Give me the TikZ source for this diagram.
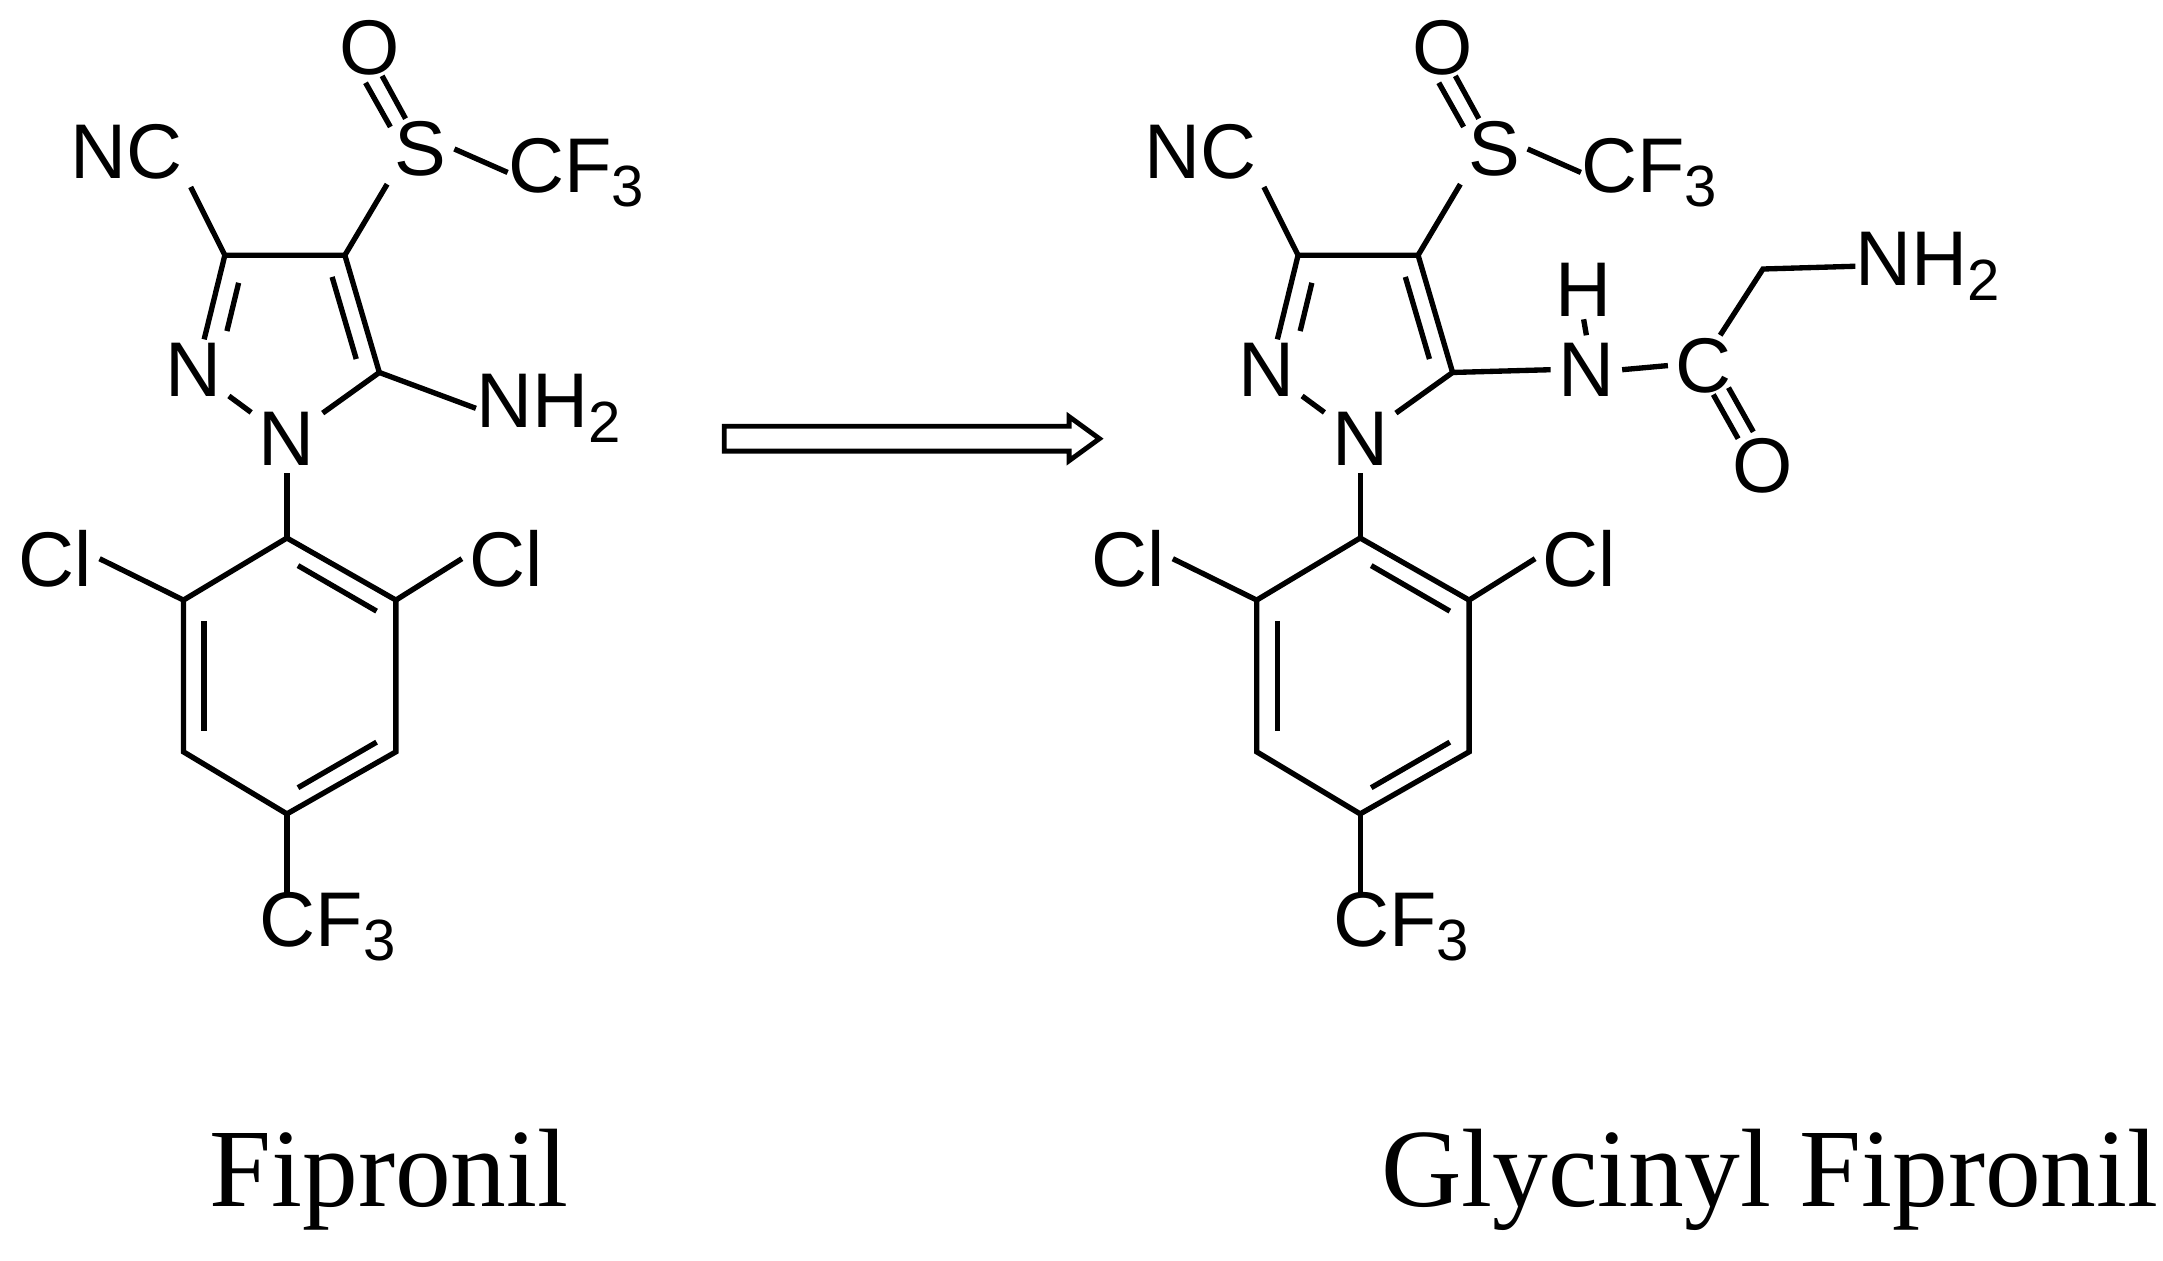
\documentclass[tikz,border=0pt]{standalone}
\usepackage{fontspec}
\setmainfont{Liberation Serif}
\newfontfamily\atomfont{Liberation Sans}
\usetikzlibrary{calc}
\newcommand\subt[1]{\raisebox{-0.35ex}{\fontsize{24}{24}\selectfont #1}}
\tikzset{
 atm/.style={inner sep=3pt,font=\atomfont\fontsize{32}{32}\selectfont},
 bd/.style={line width=2.2pt},
 ttl/.style={font=\fontsize{46}{46}\selectfont,inner sep=0pt}
}
\newcommand\core[2]{%
\begin{scope}[shift={(#2,0)}]
 \coordinate (#1c3) at (163,185);
 \coordinate (#1c4) at (250,185);
 \coordinate (#1c5) at (275,270);
 \node[atm] (#1n1) at (208,318) {N};
 \node[atm] (#1n2) at (140,268) {N};
 \coordinate (#1n2t) at (148,246);
 \node[atm] (#1nc) at (92,110) {NC};
 \node[atm] (#1s) at (305,108) {S};
 \node[atm] (#1o) at (268,35) {O};
 \node[atm,anchor=west,inner sep=0pt] (#1cf) at (368,125) {CF\subt{3}};
 \coordinate (#1b1) at (208,390);
 \coordinate (#1b2) at (287,435);
 \coordinate (#1b3) at (287,545);
 \coordinate (#1b4) at (208,590);
 \coordinate (#1b5) at (133,545);
 \coordinate (#1b6) at (133,435);
 \node[atm] (#1cl1) at (40,405) {Cl};
 \node[atm] (#1cl2) at (367,405) {Cl};
 \node[atm,anchor=west,inner sep=0pt] (#1cf2) at (188,672) {CF\subt{3}};
 \draw[bd] (#1n2t)--(#1c3)--(#1c4)--(#1c5)--(#1n1)--(#1n2);
 \draw[bd] ($(#1c4)!0.15!(#1c5)+(-13,3)$)--($(#1c4)!0.85!(#1c5)+(-13,3)$);
 \draw[bd] (173,205)--(164.5,240);
 \draw[bd] (#1c3)--(#1nc.south east);
 \draw[bd] (#1c4)--(#1s.south west);
 \draw[bd] (283,92)--(265,60);
 \draw[bd] (294,86)--(277,55);
 \draw[bd] (#1s.east)--(#1cf.west);
 \draw[bd] (#1n1)--(#1b1);
 \draw[bd] (#1b1)--(#1b2)--(#1b3)--(#1b4)--(#1b5)--(#1b6)--cycle;
 \draw[bd] (148,450)--(148,530);
 \draw[bd] (216,410)--(273,443);
 \draw[bd] (216,571)--(273,538);
 \draw[bd] (#1b6)--(#1cl1.east);
 \draw[bd] (#1b2)--(#1cl2.west);
 \draw[bd] (#1b4)--(208,650);
\end{scope}}
\begin{document}
\begin{tikzpicture}[x=0.02cm,y=-0.02cm]
\useasboundingbox (0,0) rectangle (1568,914);
\core{a}{0}
\core{b}{778}
\node[atm,anchor=west,inner sep=0pt] (anh) at (345,296) {NH\subt{2}};
\draw[bd] (ac5)--(anh.west);
\node[atm] (bn) at (1150,268) {N};
\node[atm,inner sep=1pt] (bh) at (1148,210) {H};
\node[atm] (bc) at (1235,265) {C};
\node[atm] (bo) at (1278,338) {O};
\coordinate (bch) at (1278,195);
\node[atm,anchor=west,inner sep=0pt] (bnh) at (1345,193) {NH\subt{2}};
\draw[bd] (bc5)--(bn.west);
\draw[bd] (bn.north)--(bh.south);
\draw[bd] (bn.east)--(bc.west);
\draw[bd] (1247,243)--(bch)--(bnh.west);
\draw[bd] (1242,286)--(1260,318);
\draw[bd] (1253,281)--(1271,313);
\draw[line width=2pt] (525,309)--(775,309)--(775,302)--(797,318)--(775,334)--(775,327)--(525,327)--cycle;
\node[ttl] (t1) at (282,855) {Fipronil};
\node[ttl] (t2) at (1283,855) {Glycinyl Fipronil};
\end{tikzpicture}
\end{document}
